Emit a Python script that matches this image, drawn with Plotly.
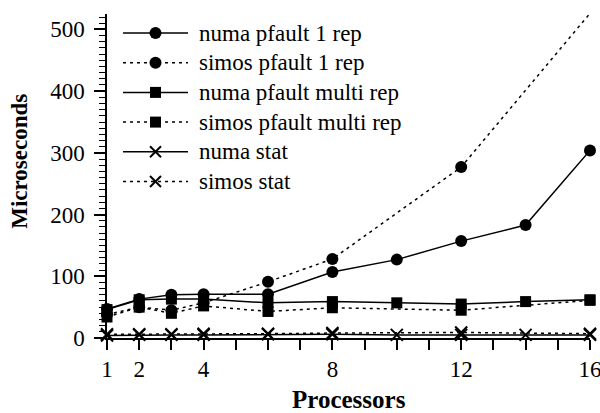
import plotly.graph_objects as go

# Processor counts sampled for each kernel variant
procs_numa = [1, 2, 3, 4, 6, 8, 10, 12, 14, 16]
procs_simos = [1, 2, 3, 4, 6, 8, 12, 16]

# Latency in microseconds
numa_pfault_1rep = [47, 63, 70, 71, 71, 107, 127, 157, 183, 304]
simos_pfault_1rep = [38, 50, 45, 57, 91, 128, 277, 526]
numa_pfault_multi = [46, 62, 63, 63, 57, 59, 57, 55, 59, 62]
simos_pfault_multi = [34, 50, 40, 52, 43, 49, 45, 61]
numa_stat = [4, 5, 5, 5, 6, 6, 5, 5, 5, 5]
simos_stat = [6, 6, 6, 7, 7, 8, 9, 7]

x_ticks = list(range(1, 17))
x_labels = ["1", "2", "", "4", "", "", "", "8", "", "", "", "12", "", "", "", "16"]

FONT = "Liberation Serif"
DOT = "3px,4px"
TXT = 23

W, H = 600, 413
ML, MR, MT, MB = 107, 10, 14, 75
PW, PH = W - ML - MR, H - MT - MB

series = [
    ("numa pfault 1 rep", procs_numa, numa_pfault_1rep, "solid", "circle"),
    ("simos pfault 1 rep", procs_simos, simos_pfault_1rep, DOT, "circle"),
    ("numa pfault multi rep", procs_numa, numa_pfault_multi, "solid", "square"),
    ("simos pfault multi rep", procs_simos, simos_pfault_multi, DOT, "square"),
    ("numa stat", procs_numa, numa_stat, "solid", "x-thin"),
    ("simos stat", procs_simos, simos_stat, DOT, "x-thin"),
]

fig = go.Figure()
for name, xs, ys, dash, symbol in series:
    thin = symbol == "x-thin"
    fig.add_trace(go.Scatter(
        x=xs, y=ys, name=name, mode="lines+markers",
        line=dict(color="black", width=1.5, dash=dash),
        marker=dict(symbol=symbol, size=12 if symbol != "square" else 11,
                    color="black",
                    line=dict(color="black", width=2 if thin else 0)),
        cliponaxis=False, showlegend=False,
    ))


# Legend key drawn in page pixels, converted to paper coordinates
def px_x(px):
    return (px - ML) / PW


def px_y(py):
    return (H - MB - py) / PH


shapes = []
annotations = []
row_top, row_step = 33, 29.7
key_x0, key_x1, text_x = 123, 188, 197
for i, (name, _, _, dash, symbol) in enumerate(series):
    cy = row_top + row_step * i
    cx = (key_x0 + key_x1) / 2
    line_dash = "solid" if dash == "solid" else DOT
    shapes.append(dict(type="line", xref="paper", yref="paper",
                       x0=px_x(key_x0), x1=px_x(key_x1), y0=px_y(cy), y1=px_y(cy),
                       line=dict(color="black", width=1.5, dash=line_dash)))
    if symbol == "circle":
        r = 6
        shapes.append(dict(type="circle", xref="paper", yref="paper",
                           x0=px_x(cx - r), x1=px_x(cx + r), y0=px_y(cy + r), y1=px_y(cy - r),
                           fillcolor="black", line=dict(width=0)))
    elif symbol == "square":
        r = 5.5
        shapes.append(dict(type="rect", xref="paper", yref="paper",
                           x0=px_x(cx - r), x1=px_x(cx + r), y0=px_y(cy + r), y1=px_y(cy - r),
                           fillcolor="black", line=dict(width=0)))
    else:
        r = 5.5
        for sgn in (1, -1):
            shapes.append(dict(type="line", xref="paper", yref="paper",
                               x0=px_x(cx - r), x1=px_x(cx + r),
                               y0=px_y(cy - sgn * r), y1=px_y(cy + sgn * r),
                               line=dict(color="black", width=2)))
    annotations.append(dict(text=name, xref="paper", yref="paper",
                            x=px_x(text_x), y=px_y(cy), xanchor="left", yanchor="middle",
                            showarrow=False, font=dict(family=FONT, size=TXT, color="black")))

annotations += [
    dict(text="<b>Processors</b>", xref="paper", yref="paper",
         x=0.5, y=-0.19, xanchor="center", yanchor="middle",
         showarrow=False, font=dict(family=FONT, size=25)),
    dict(text="<b>Microseconds</b>", xref="paper", yref="paper",
         x=-0.18, y=0.544, xanchor="center", yanchor="middle", textangle=-90,
         showarrow=False, font=dict(family=FONT, size=23)),
]

fig.update_layout(
    template="none",
    width=W, height=H,
    margin=dict(l=ML, r=MR, t=MT, b=MB),
    paper_bgcolor="white", plot_bgcolor="white",
    font=dict(family=FONT, size=TXT, color="black"),
    showlegend=False,
    xaxis=dict(
        range=[1, 16], tickvals=x_ticks, ticktext=x_labels,
        ticks="outside", ticklen=10, tickwidth=1.5, tickcolor="black",
        showline=True, linecolor="black", linewidth=1.5,
        showgrid=False, zeroline=False, ticklabeloverflow="allow",
    ),
    yaxis=dict(
        range=[0, 525], tickvals=[0, 100, 200, 300, 400, 500],
        ticks="outside", ticklen=11, tickwidth=1.5, tickcolor="black",
        ticklabelstandoff=5,
        minor=dict(dtick=10, ticks="outside", ticklen=6, tickwidth=1, tickcolor="black"),
        showline=True, linecolor="black", linewidth=1.5,
        showgrid=False, zeroline=False,
    ),
    shapes=shapes,
    annotations=annotations,
)

fig.write_html("out.html")
